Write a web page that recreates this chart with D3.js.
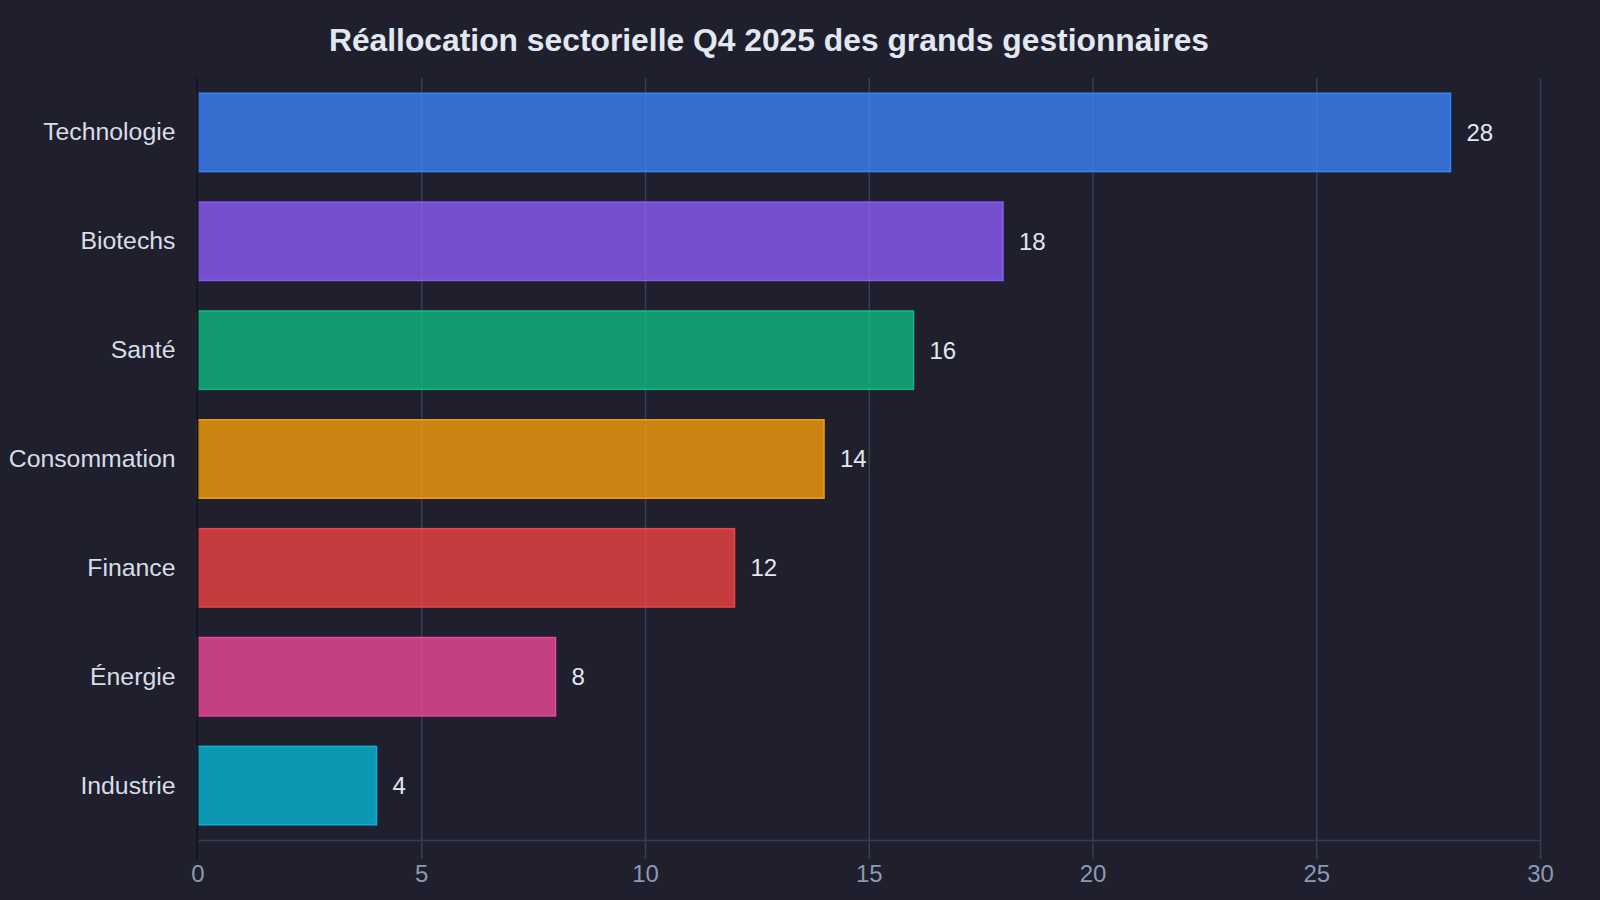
<!DOCTYPE html>
<html>
<head>
<meta charset="utf-8">
<script src="https://cdn.jsdelivr.net/npm/d3@7"></script>
<style>
  html, body { margin:0; padding:0; background:#1f1f2e; }
  svg text { font-family: "Liberation Sans", Arial, sans-serif; }
</style>
</head>
<body>
<svg id="chart" width="1600" height="900"></svg>
<script>
// data
var sectors = ["Technologie","Biotechs","Santé","Consommation","Finance","Énergie","Industrie"]
var values  = [28,18,16,14,12,8,4]
var colors  = ["#3b82f6","#8b5cf6","#10b981","#f59e0b","#ef4444","#ec4899","#06b6d4"]
var xTicks  = [0,5,10,15,20,25,30]

var svg = d3.select("#chart")
var W = 1600, H = 900
var m = {top:78, right:60, bottom:60, left:197.5}

svg.append("rect").attr("width",W).attr("height",H).attr("fill","#1f1f2e")

var x = d3.scaleLinear().domain([0,30]).range([m.left, W-m.right])
var y = d3.scaleBand().domain(sectors).range([m.top, H-m.bottom])
          .paddingInner(0.28).paddingOuter(0.14)

// grid + x axis
var xAxis = svg.append("g").attr("class","x-axis")
    .attr("transform",`translate(0 ${H-m.bottom})`)
    .call(d3.axisBottom(x).tickValues(xTicks).tickSizeInner(19).tickSizeOuter(0).tickPadding(6))
xAxis.select(".domain").attr("stroke","#334155").attr("stroke-width",1.5)
xAxis.selectAll(".tick line").attr("stroke","#334155").attr("stroke-width",1.5)
     .attr("y1",-(H-m.bottom-m.top))
xAxis.selectAll(".tick text").attr("fill","#8b9ab3").attr("font-size",24)

// bars
var bars = svg.append("g").selectAll(".bar").data(sectors.map((s,i)=>({s:s,v:values[i],c:colors[i]})))
  .enter().append("g").attr("class","bar")

bars.append("rect")
    .attr("x",x(0))
    .attr("y",d=>y(d.s))
    .attr("width",d=>x(d.v)-x(0))
    .attr("height",y.bandwidth())
    .attr("fill",d=>d.c)
    .attr("fill-opacity",0.8)
    .attr("stroke",d=>d.c)
    .attr("stroke-width",1.5)

bars.append("text")
    .attr("x",d=>x(d.v)+16)
    .attr("y",d=>y(d.s)+y.bandwidth()/2)
    .attr("dy","0.35em")
    .attr("fill","#e2e8f0")
    .attr("font-size",24)
    .text(d=>d.v)

// y axis
var yAxis = svg.append("g").attr("transform",`translate(${m.left} 0)`)
    .call(d3.axisLeft(y).tickSize(0).tickPadding(22))
yAxis.select(".domain").remove()
yAxis.selectAll(".tick text").attr("fill","#d8dde6").attr("font-size",24.8)
svg.append("line").attr("x1",m.left).attr("x2",m.left)
   .attr("y1",m.top).attr("y2",H-m.bottom+19)
   .attr("stroke","#12121a").attr("stroke-width",2)

// title
svg.append("text").attr("x",769).attr("y",51)
   .attr("text-anchor","middle")
   .attr("fill","#e2e8f0")
   .attr("font-size",31.8)
   .attr("font-weight","bold")
   .text("Réallocation sectorielle Q4 2025 des grands gestionnaires")
</script>
</body>
</html>
